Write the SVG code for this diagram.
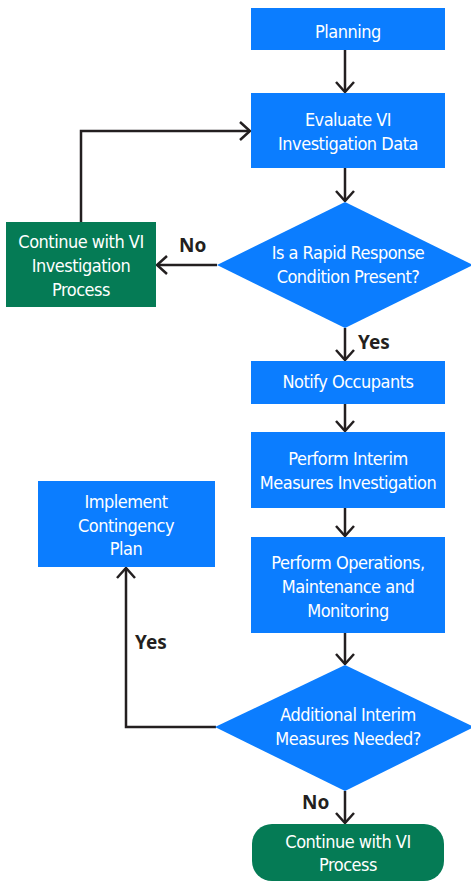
<svg xmlns="http://www.w3.org/2000/svg" width="471" height="882" viewBox="0 0 471 882">
<style>
.b{fill:#0b7dff}
.g{fill:#057b55}
.t{font-family:"Liberation Sans Narrow","DejaVu Sans Condensed","Liberation Sans",sans-serif;font-size:18px;letter-spacing:-0.5px;fill:#fff;text-anchor:middle}
.l{font-family:"Noto Sans","Open Sans",sans-serif;font-weight:bold;font-size:19px;fill:#231f20}
.c{fill:none;stroke:#231f20;stroke-width:2.5}
</style>
<defs>
<marker id="a" viewBox="0 0 12 20" refX="11" refY="10" markerWidth="12" markerHeight="20" markerUnits="userSpaceOnUse" orient="auto">
<path d="M1,1 L11,10 L1,19" fill="none" stroke="#231f20" stroke-width="2.5"/>
</marker>
</defs>
<g id="connectors">
<path class="c" d="M345,50 V92" marker-end="url(#a)"/>
<path class="c" d="M345,168 V201" marker-end="url(#a)"/>
<path class="c" d="M217,265 H157" marker-end="url(#a)"/>
<path class="c" d="M81,222 V131 H250" marker-end="url(#a)"/>
<path class="c" d="M345,328 V360" marker-end="url(#a)"/>
<path class="c" d="M345,404 V431" marker-end="url(#a)"/>
<path class="c" d="M345,508 V536" marker-end="url(#a)"/>
<path class="c" d="M345,633 V664" marker-end="url(#a)"/>
<path class="c" d="M216,727 H126 V568" marker-end="url(#a)"/>
<path class="c" d="M345,791 V823" marker-end="url(#a)"/>
<text class="l" x="179" y="252">No</text>
<text class="l" x="358" y="349">Yes</text>
<text class="l" x="135" y="649">Yes</text>
<text class="l" x="302" y="809">No</text>
</g>
<g id="planning"><rect class="b" x="251" y="8" width="194" height="42"/><text class="t" x="348" y="38">Planning</text></g>
<g id="evaluate"><rect class="b" x="251" y="93" width="194" height="75"/><text class="t" x="348" y="126">Evaluate VI</text><text class="t" x="348" y="150">Investigation Data</text></g>
<g id="rapid"><polygon class="b" points="345,202 473,265 345,328 217,265"/><text class="t" x="348" y="259">Is a Rapid Response</text><text class="t" x="348" y="283">Condition Present?</text></g>
<g id="continue-inv"><rect class="g" x="6" y="222" width="150" height="85"/><text class="t" x="81" y="248">Continue with VI</text><text class="t" x="81" y="272">Investigation</text><text class="t" x="81" y="296">Process</text></g>
<g id="notify"><rect class="b" x="251" y="361" width="194" height="43"/><text class="t" x="348" y="388">Notify Occupants</text></g>
<g id="interim"><rect class="b" x="251" y="432" width="194" height="76"/><text class="t" x="348" y="465">Perform Interim</text><text class="t" x="348" y="489">Measures Investigation</text></g>
<g id="operations"><rect class="b" x="251" y="537" width="194" height="96"/><text class="t" x="348" y="569">Perform Operations,</text><text class="t" x="348" y="593">Maintenance and</text><text class="t" x="348" y="617">Monitoring</text></g>
<g id="contingency"><rect class="b" x="38" y="481" width="177" height="86"/><text class="t" x="126" y="508">Implement</text><text class="t" x="126" y="532">Contingency</text><text class="t" x="126" y="555">Plan</text></g>
<g id="additional"><polygon class="b" points="345,665 474,727 345,791 215,727"/><text class="t" x="348" y="721">Additional Interim</text><text class="t" x="348" y="745">Measures Needed?</text></g>
<g id="continue-vi"><rect class="g" x="252" y="824" width="192" height="57" rx="20"/><text class="t" x="348" y="848">Continue with VI</text><text class="t" x="348" y="871">Process</text></g>
</svg>
